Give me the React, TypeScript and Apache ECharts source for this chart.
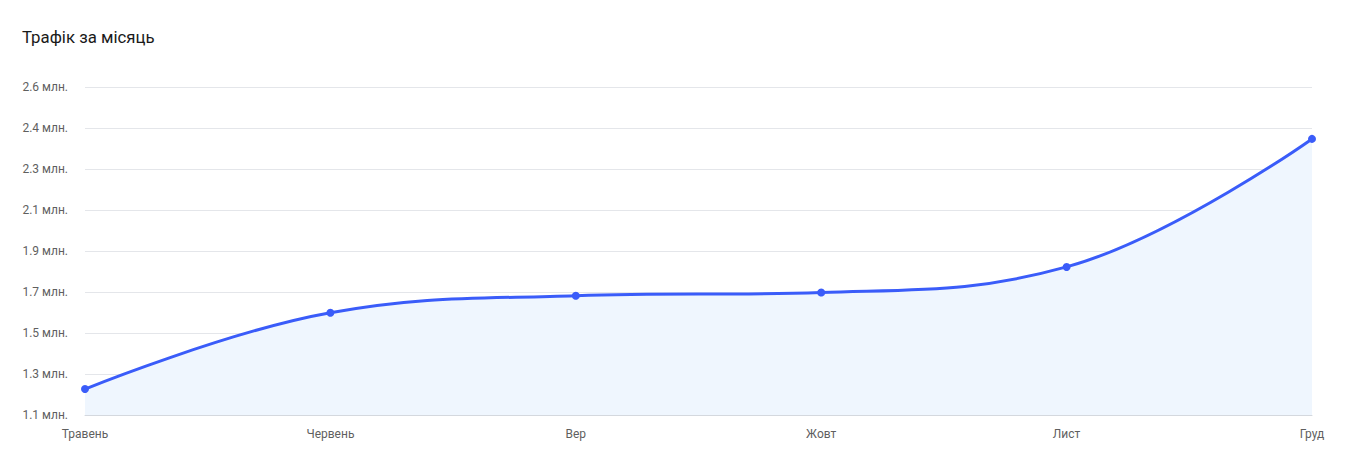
import React, { useEffect, useRef } from "react";
import * as echarts from "echarts";

const months = ["Травень", "Червень", "Вер", "Жовт", "Лист", "Груд"];
const traffic = [1.247, 1.597, 1.675, 1.69, 1.807, 2.394];
const yMin = 1.128;
const yMax = 2.632;
const yStep = 0.188;

export default function App() {
  const ref = useRef<HTMLDivElement>(null);
  useEffect(() => {
    if (!ref.current) return;
    const chart = echarts.init(ref.current, null, { renderer: "svg" });
    chart.setOption({
      animation: false,
      backgroundColor: "#ffffff",
      title: {
        text: "Трафік за місяць",
        left: 17,
        top: 23,
        textStyle: { fontFamily: "Roboto", fontSize: 16.8, fontWeight: "normal", color: "#1a1a1a" },
      },
      grid: { left: 85, right: 40, top: 87, bottom: 56, containLabel: false },
      xAxis: {
        type: "category",
        data: months,
        boundaryGap: false,
        axisLine: { lineStyle: { color: "#d4d8de" } },
        axisTick: { show: false },
        axisLabel: { color: "#5f5f5f", fontFamily: "Roboto", fontSize: 12, margin: 13, hideOverlap: false },
        splitLine: { show: false },
      },
      yAxis: {
        type: "value",
        min: yMin,
        max: yMax,
        interval: yStep,
        axisLine: { show: false },
        axisTick: { show: false },
        axisLabel: {
          color: "#5f5f5f",
          fontFamily: "Roboto",
          fontSize: 12,
          margin: 17,
          formatter: (v: number) => (Math.round(v * 10) / 10).toFixed(1) + " млн.",
        },
        splitLine: { lineStyle: { color: "#e4e6ea" } },
      },
      series: [
        {
          type: "line",
          data: traffic,
          smooth: 0.4,
          symbol: "circle",
          symbolSize: 8,
          lineStyle: { color: "#3a5cf9", width: 3 },
          itemStyle: { color: "#3a5cf9" },
          areaStyle: { color: "#eff6fe", opacity: 1 },
        },
      ],
    });
    return () => chart.dispose();
  }, []);
  return <div ref={ref} style={{ position: "fixed", left: 0, top: 0, width: 1352, height: 471 }} />;
}
